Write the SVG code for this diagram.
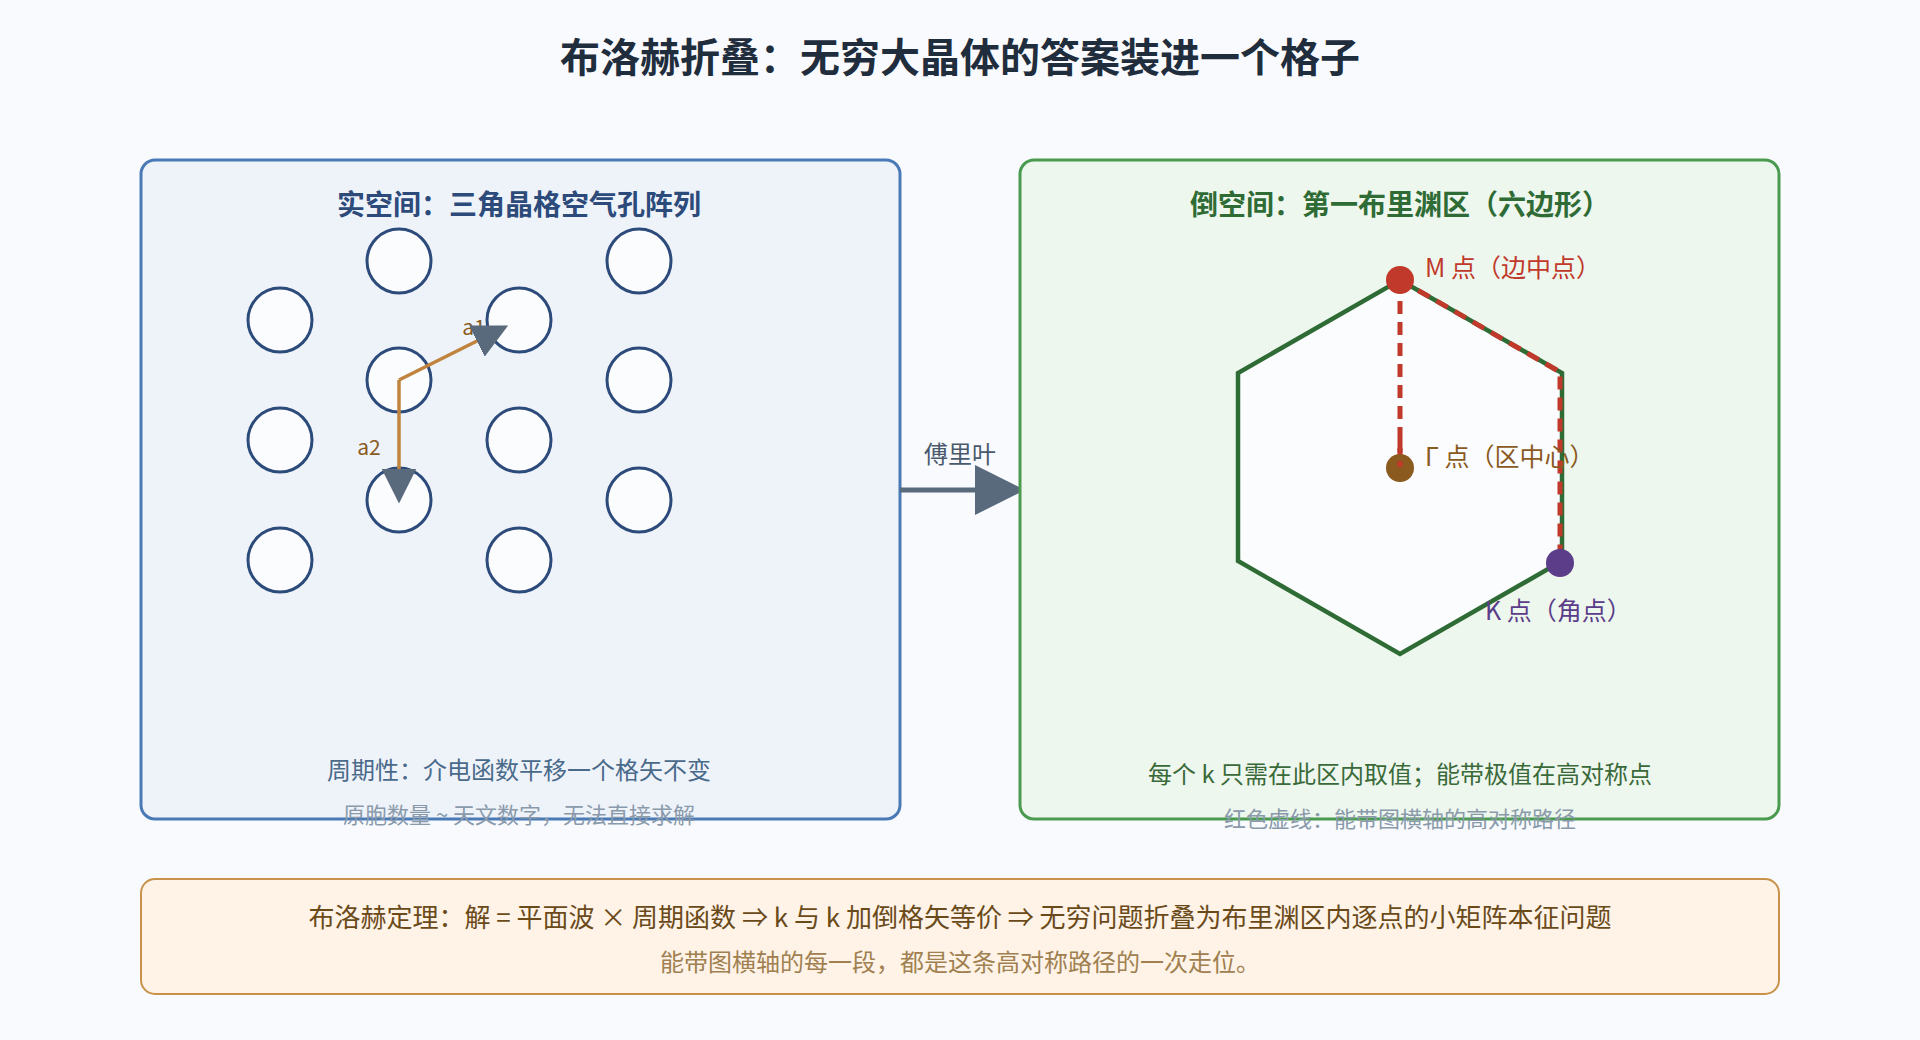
<svg xmlns="http://www.w3.org/2000/svg" width="1920" height="1040" viewBox="0 0 1920 1040">
<defs>
<style>
text{font-family:"Noto Sans CJK SC","Noto Sans",sans-serif;text-anchor:middle}
.hole{fill:#fafcfe;stroke:#2c4a7a;stroke-width:3}
.vec{stroke:#c0843e;stroke-width:3.5;fill:none}
.path{stroke:#c0392b;stroke-width:5;stroke-dasharray:13 8;fill:none}
</style>
<marker id="ah" viewBox="0 0 10 10" refX="9" refY="5" markerWidth="10" markerHeight="10" markerUnits="userSpaceOnUse" orient="auto"><path d="M0,0L10,5L0,10z" fill="#5a6a7d"/></marker>
<marker id="big" viewBox="0 0 10 10" refX="9" refY="5" markerWidth="10" markerHeight="10" orient="auto"><path d="M0,0L10,5L0,10z" fill="#5a6a7d"/></marker>
</defs>
<rect width="1920" height="1040" fill="#f8fafd"/>
<text x="960" y="72" font-size="40" font-weight="bold" fill="#1f2d3d">布洛赫折叠：无穷大晶体的答案装进一个格子</text>
<g id="real-space">
<rect x="141" y="160" width="759" height="659" rx="14" fill="#eef3fa" stroke="#4a7ab5" stroke-width="3"/>
<text x="519" y="215" font-size="28" font-weight="bold" fill="#2c4a7a">实空间：三角晶格空气孔阵列</text>
<circle class="hole" cx="399" cy="261" r="32"/><circle class="hole" cx="639" cy="261" r="32"/>
<circle class="hole" cx="280" cy="320" r="32"/><circle class="hole" cx="519" cy="320" r="32"/>
<circle class="hole" cx="399" cy="380" r="32"/><circle class="hole" cx="639" cy="380" r="32"/>
<circle class="hole" cx="280" cy="440" r="32"/><circle class="hole" cx="519" cy="440" r="32"/>
<circle class="hole" cx="399" cy="500" r="32"/><circle class="hole" cx="639" cy="500" r="32"/>
<circle class="hole" cx="280" cy="560" r="32"/><circle class="hole" cx="519" cy="560" r="32"/>
<text x="474" y="335" font-size="21" fill="#8a5a20">a1</text>
<text x="369" y="455" font-size="21" fill="#8a5a20">a2</text>
<path class="vec" d="M399,380L505,327" marker-end="url(#big)"/>
<path class="vec" d="M399,380L399,500" marker-end="url(#big)"/>
<text x="519" y="779" font-size="24" fill="#4a6a8a">周期性：介电函数平移一个格矢不变</text>
<text x="519" y="823" font-size="22" fill="#8a9aab">原胞数量 ~ 天文数字，无法直接求解</text>
</g>
<g id="connectors">
<path d="M900,490L1020,490" stroke="#5a6a7d" stroke-width="5" marker-end="url(#big)"/>
<text x="960" y="463" font-size="24" fill="#4a5a6d">傅里叶</text>
</g>
<g id="reciprocal-space">
<rect x="1020" y="160" width="759" height="659" rx="14" fill="#eef7ee" stroke="#4a9a50" stroke-width="3"/>
<text x="1400" y="215" font-size="28" font-weight="bold" fill="#2e6b35">倒空间：第一布里渊区（六边形）</text>
<polygon points="1400,280 1562,373 1562,561 1400,654 1238,561 1238,373" fill="#fafcfe" stroke="#2e6b35" stroke-width="4.5"/>
<path class="path" d="M1400,280L1400,467"/>
<path class="path" d="M1400,280L1560,372L1560,563"/>
<circle cx="1400" cy="280" r="14" fill="#c0392b"/>
<circle cx="1400" cy="468" r="14" fill="#8b5a1e"/>
<circle cx="1560" cy="563" r="14" fill="#5b3d8a"/>
<path class="path" d="M1400,440L1400,467"/>
<text x="1425" y="277" font-size="25" fill="#c0392b" style="text-anchor:start">M 点（边中点）</text>
<text x="1425" y="466" font-size="25" fill="#8b5a1e" style="text-anchor:start">Γ 点（区中心）</text>
<text x="1485" y="620" font-size="25" fill="#5b3d8a" style="text-anchor:start">K 点（角点）</text>
<text x="1400" y="783" font-size="24" fill="#3a6a3a">每个 k 只需在此区内取值；能带极值在高对称点</text>
<text x="1400" y="827" font-size="22" fill="#8a9aab">红色虚线：能带图横轴的高对称路径</text>
</g>
<g id="theorem">
<rect x="141" y="879" width="1638" height="115" rx="14" fill="#fef3e6" stroke="#c8924a" stroke-width="2"/>
<text x="960" y="927" font-size="26" fill="#6b4a1a">布洛赫定理：解 = 平面波 × 周期函数 ⇒ k 与 k 加倒格矢等价 ⇒ 无穷问题折叠为布里渊区内逐点的小矩阵本征问题</text>
<text x="960" y="971" font-size="24" fill="#a08050">能带图横轴的每一段，都是这条高对称路径的一次走位。</text>
</g>
</svg>
